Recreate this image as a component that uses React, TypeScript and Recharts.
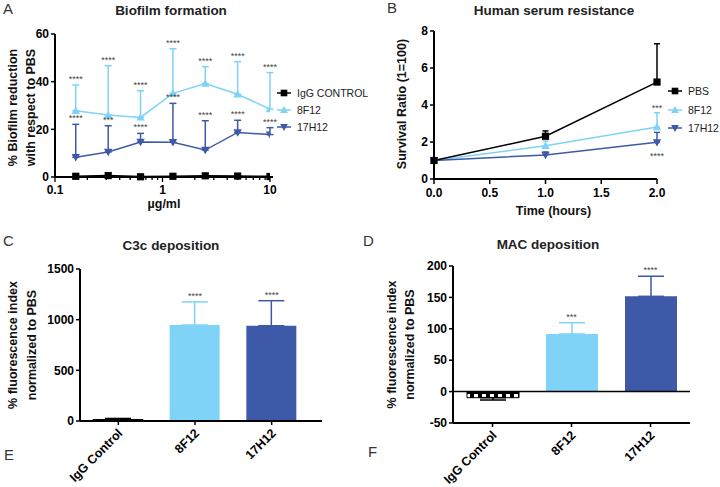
import React from 'react';
import {
  LineChart, Line, XAxis, YAxis, ErrorBar, LabelList, Label,
  ComposedChart, Bar, ReferenceLine,
} from 'recharts';

const LIGHT = '#7fd3f6';
const DARK = '#3e59a7';
const FONT = '"Liberation Sans", Arial, Helvetica, sans-serif';

// A: biofilm formation (log x)
const concentrations = [0.156, 0.3125, 0.625, 1.25, 2.5, 5, 10];
const biofilmIgg = [0.3, 0.6, 0.1, 0.3, 0.5, 0.4, 0.2];
const biofilm8F12 = [27.8, 26, 25, 35.1, 39.2, 34.7, 28.5];
const biofilm8F12Sd = [10.8, 20.7, 11.2, 18.7, 7.1, 13.7, 15.3];
const biofilm17H12 = [8.3, 10.5, 14.7, 14.6, 11.3, 18.7, 17.8];
const biofilm17H12Sd = [13.8, 11, 3.6, 16.3, 12.3, 5.1, 2.9];
const biofilm8F12Stars = ['****', '****', '****', '****', '****', '****', '****'];
const biofilm17H12Stars = ['****', '***', '****', '****', '****', '****', '****'];
const concMajorTicks = [0.1, 1, 10];
const concMinorTicks = [0.2, 0.3, 0.4, 0.5, 0.6, 0.7, 0.8, 0.9, 2, 3, 4, 5, 6, 7, 8, 9];

// B: human serum resistance
const hours = [0, 1, 2];
const serumPBS = [1, 2.31, 5.24];
const serumPBSSd = [0, 0.29, 2.07];
const serum8F12 = [1, 1.8, 2.81];
const serum8F12Sd = [0, 0.25, 0.77];
const serum17H12 = [1, 1.3, 1.98];
const serum17H12Sd = [0, 0.16, 0.54];
const serum8F12Stars = ['', '', '***'];
const serum17H12Stars = ['', '', '****'];

// C / D: deposition bars
const groups = ['IgG Control', '8F12', '17H12'];
const groupKeys = ['igg', 'f8', 'h17'];
const c3cValues = [15, 947, 940];
const c3cSd = [10, 228, 247];
const c3cStars = ['', '****', '****'];
const macValues = [-9.7, 91.7, 151.7];
const macSd = [3.7, 18, 32];
const macStars = ['', '***', '****'];

const biofilmData = concentrations.map((c, i) => ({
  c,
  igg: biofilmIgg[i],
  f8: biofilm8F12[i],
  f8Err: [0, biofilm8F12Sd[i]],
  f8Top: biofilm8F12[i] + biofilm8F12Sd[i],
  f8Star: biofilm8F12Stars[i],
  h17: biofilm17H12[i],
  h17Err: [0, biofilm17H12Sd[i]],
  h17Top: biofilm17H12[i] + biofilm17H12Sd[i],
  h17Star: biofilm17H12Stars[i],
}));

const serumData = hours.map((t, i) => ({
  t,
  pbs: serumPBS[i],
  pbsErr: [0, serumPBSSd[i]],
  f8: serum8F12[i],
  f8Err: [0, serum8F12Sd[i]],
  f8Top: serum8F12[i] + serum8F12Sd[i],
  f8Star: serum8F12Stars[i],
  h17: serum17H12[i],
  h17Err: [0, serum17H12Sd[i]],
  h17Star: serum17H12Stars[i],
}));

const barRows = (values: number[], sds: number[], stars: string[]) =>
  groups.map((g, i) => ({
    g,
    [groupKeys[i]]: values[i],
    [groupKeys[i] + 'Err']: values[i] < 0 ? [sds[i], 0] : [0, sds[i]],
    top: values[i] + sds[i],
    star: stars[i],
  }));

const c3cData = barRows(c3cValues, c3cSd, c3cStars);
const macData = barRows(macValues, macSd, macStars);

const Marker = ({ shape, cx, cy, color, r = 3.6 }: any) => {
  if (shape === 'square') return <rect x={cx - r} y={cy - r} width={2 * r} height={2 * r} fill={color} />;
  if (shape === 'up')
    return <path d={`M${cx},${cy - r - 0.6}L${cx + r + 0.6},${cy + r - 0.4}L${cx - r - 0.6},${cy + r - 0.4}Z`} fill={color} />;
  return <path d={`M${cx},${cy + r + 0.6}L${cx + r + 0.6},${cy - r + 0.4}L${cx - r - 0.6},${cy - r + 0.4}Z`} fill={color} />;
};

const dotOf = (shape: string, color: string) => (p: any) =>
  <Marker key={`${shape}-${p.index}`} shape={shape} cx={p.cx} cy={p.cy} color={color} />;

const starLabel = (dy: number) => (p: any) => {
  const vb = p.viewBox || {};
  const x = p.x ?? vb.x;
  const y = p.y ?? vb.y;
  if (!p.value) return null;
  return (
    <text x={x} y={y + dy} textAnchor="middle" fontSize={9} fill="#444" fontFamily={FONT}>{p.value}</text>
  );
};

const yTitle = (lines: string[], xs: number[], dy = 0) => (p: any) => {
  const vb = p.viewBox || { y: 0, height: 0 };
  const cy = vb.y + vb.height / 2 + dy;
  return (
    <g>
      {lines.map((l, i) => (
        <text key={l} x={xs[i]} y={cy} transform={`rotate(-90 ${xs[i]} ${cy})`} textAnchor="middle"
          dominantBaseline="central" fontSize={12.5} fontWeight="bold" fontFamily={FONT} fill="#111">{l}</text>
      ))}
    </g>
  );
};

const xTitle = (text: string, dx: number, dy: number) => (p: any) => {
  const vb = p.viewBox || { x: 0, y: 0, width: 0 };
  return (
    <text x={vb.x + vb.width / 2 + dx} y={vb.y + dy} textAnchor="middle" dominantBaseline="central"
      fontSize={12.5} fontWeight="bold" fontFamily={FONT} fill="#111">{text}</text>
  );
};

const LogTick = (props: any) => {
  const { x, y, payload } = props;
  const major = concMajorTicks.includes(payload.value);
  return (
    <g>
      <line x1={x} x2={x} y1={y} y2={y + (major ? 5 : 3)} stroke="#000" strokeWidth={1.3} />
      {major && (
        <text x={x} y={y + 17} textAnchor="middle" fontSize={12} fontWeight="bold" fontFamily={FONT} fill="#000">
          {payload.value}
        </text>
      )}
    </g>
  );
};

const SlantTick = (props: any) => {
  const { x, y, payload } = props;
  return (
    <text x={x + 5} y={y + 9} transform={`rotate(-45 ${x + 5} ${y + 9})`} textAnchor="end" fontSize={12.5}
      fontWeight="bold" fontFamily={FONT} fill="#000">{payload.value}</text>
  );
};

const tickStyle = { fill: '#000', fontSize: 12, fontWeight: 'bold', fontFamily: FONT };
const axisLine = { stroke: '#000', strokeWidth: 2 };
const tickLine = { stroke: '#000', strokeWidth: 1.5 };

const LegendRow = ({ shape, color, label, x, y }: any) => (
  <div style={{ position: 'absolute', left: x, top: y - 7, height: 14, display: 'flex', alignItems: 'center',
    whiteSpace: 'nowrap', fontSize: 10.5, fontFamily: FONT, color: '#222' }}>
    <svg width={14} height={10} style={{ display: 'block' }}>
      <line x1={0} x2={14} y1={5} y2={5} stroke={color} strokeWidth={1.5} />
      <Marker shape={shape} cx={7} cy={5} color={color} r={3.3} />
    </svg>
    <span style={{ marginLeft: 6 }}>{label}</span>
  </div>
);

const Title = ({ text, cx, cy }: any) => (
  <div style={{ position: 'absolute', left: cx - 120, top: cy - 8, width: 240, height: 16, lineHeight: '16px',
    textAlign: 'center', fontSize: 13.5, fontWeight: 'bold', fontFamily: FONT, color: '#222' }}>{text}</div>
);

const Letter = ({ text, x, y }: any) => (
  <div style={{ position: 'absolute', left: x, top: y - 8, height: 16, lineHeight: '16px', fontSize: 15,
    fontFamily: FONT, color: '#333' }}>{text}</div>
);

const checker = (id: string) => (
  <defs>
    <pattern id={id} width={8} height={8} patternUnits="userSpaceOnUse">
      <rect x={0} y={0} width={8} height={8} fill="#000" />
      <rect x={2} y={2} width={4} height={4} fill="#fff" />
    </pattern>
  </defs>
);

const BiofilmChart = () => (
  <LineChart width={360} height={230} data={biofilmData} margin={{ top: 34, right: 87, bottom: 23, left: 0 }}>
    <XAxis dataKey="c" type="number" scale="log" domain={[0.1, 10]} allowDataOverflow
      ticks={[...concMajorTicks, ...concMinorTicks]} interval={0} tick={<LogTick />} tickLine={false}
      tickSize={0} tickMargin={0} height={30} axisLine={axisLine} padding={{ left: 0, right: 3 }}>
      <Label content={xTitle('µg/ml', 0, 27)} />
    </XAxis>
    <YAxis domain={[0, 60]} ticks={[0, 20, 40, 60]} width={55} tick={tickStyle} tickSize={4} tickMargin={2}
      axisLine={axisLine} tickLine={tickLine}>
      <Label content={yTitle(['% Biofilm reduction', 'with respect to PBS'], [13, 31], 2)} />
    </YAxis>
    <Line dataKey="f8" stroke={LIGHT} strokeWidth={1.5} dot={dotOf('up', LIGHT)} isAnimationActive={false}>
      <ErrorBar dataKey="f8Err" direction="y" width={3.5} stroke={LIGHT} strokeWidth={1.5} />
    </Line>
    <Line dataKey="h17" stroke={DARK} strokeWidth={1.5} dot={dotOf('down', DARK)} isAnimationActive={false}>
      <ErrorBar dataKey="h17Err" direction="y" width={3.5} stroke={DARK} strokeWidth={1.5} />
    </Line>
    <Line dataKey="igg" stroke="#000" strokeWidth={1.8} dot={dotOf('square', '#000')} isAnimationActive={false} />
    <Line dataKey="f8Top" stroke="none" dot={false} activeDot={false} isAnimationActive={false} legendType="none">
      <LabelList dataKey="f8Star" content={starLabel(-3)} />
    </Line>
    <Line dataKey="h17Top" stroke="none" dot={false} activeDot={false} isAnimationActive={false} legendType="none">
      <LabelList dataKey="h17Star" content={starLabel(-3)} />
    </Line>
  </LineChart>
);

const SerumChart = () => (
  <LineChart width={360} height={230} data={serumData} margin={{ top: 31, right: 63, bottom: 21, left: 0 }}>
    <XAxis dataKey="t" type="number" domain={[0, 2]} ticks={[0, 0.5, 1, 1.5, 2]} interval={0}
      tickFormatter={(v: number) => v.toFixed(1)} tick={tickStyle} tickSize={5} tickMargin={4} height={30}
      axisLine={axisLine} tickLine={tickLine}>
      <Label content={xTitle('Time (hours)', 8, 32)} />
    </XAxis>
    <YAxis domain={[0, 8]} ticks={[0, 2, 4, 6, 8]} width={74} tick={tickStyle} tickSize={4} tickMargin={2}
      axisLine={axisLine} tickLine={tickLine}>
      <Label content={yTitle(['Survival Ratio (1=100)'], [42], -1)} />
    </YAxis>
    <Line dataKey="f8" stroke={LIGHT} strokeWidth={1.5} dot={dotOf('up', LIGHT)} isAnimationActive={false}>
      <ErrorBar dataKey="f8Err" direction="y" width={3} stroke={LIGHT} strokeWidth={1.5} />
    </Line>
    <Line dataKey="h17" stroke={DARK} strokeWidth={1.5} dot={dotOf('down', DARK)} isAnimationActive={false}>
      <ErrorBar dataKey="h17Err" direction="y" width={3} stroke={DARK} strokeWidth={1.5} />
    </Line>
    <Line dataKey="pbs" stroke="#000" strokeWidth={1.5} dot={dotOf('square', '#000')} isAnimationActive={false}>
      <ErrorBar dataKey="pbsErr" direction="y" width={3} stroke="#000" strokeWidth={1.5} />
    </Line>
    <Line dataKey="f8Top" stroke="none" dot={false} activeDot={false} isAnimationActive={false} legendType="none">
      <LabelList dataKey="f8Star" content={starLabel(-2)} />
    </Line>
    <Line dataKey="h17" stroke="none" dot={false} activeDot={false} isAnimationActive={false} legendType="none">
      <LabelList dataKey="h17Star" content={starLabel(17)} />
    </Line>
  </LineChart>
);

const DepositionChart = ({ data, id, domain, ticks, width, margin, xHeight, barSize, lineX, xPad, zeroLine }: any) => (
  <ComposedChart width={360} height={247} data={data} margin={margin} barSize={barSize}>
    {checker(id)}
    <XAxis dataKey="g" type="category" tick={<SlantTick />} interval={0} tickSize={4} tickMargin={0}
      height={xHeight} axisLine={axisLine} tickLine={tickLine} padding={xPad} />
    <YAxis domain={domain} ticks={ticks} width={width} tick={tickStyle} tickSize={4} tickMargin={2}
      axisLine={axisLine} tickLine={tickLine} allowDataOverflow>
      <Label content={yTitle(['% fluorescence index', 'normalized to PBS'], lineX, 0)} />
    </YAxis>
    {zeroLine && <ReferenceLine y={0} stroke="#000" strokeWidth={1.5} />}
    <Bar dataKey="igg" stackId="g" fill={`url(#${id})`} stroke="#000" strokeWidth={1} isAnimationActive={false}>
      <ErrorBar dataKey="iggErr" direction="y" width={13} stroke="#000" strokeWidth={1.5} />
    </Bar>
    <Bar dataKey="f8" stackId="g" fill={LIGHT} isAnimationActive={false}>
      <ErrorBar dataKey="f8Err" direction="y" width={13} stroke={LIGHT} strokeWidth={1.5} />
    </Bar>
    <Bar dataKey="h17" stackId="g" fill={DARK} isAnimationActive={false}>
      <ErrorBar dataKey="h17Err" direction="y" width={13} stroke={DARK} strokeWidth={1.5} />
    </Bar>
    <Line dataKey="top" stroke="none" dot={false} activeDot={false} isAnimationActive={false} legendType="none">
      <LabelList dataKey="star" content={starLabel(-3)} />
    </Line>
  </ComposedChart>
);

export default function App() {
  return (
    <div style={{ position: 'absolute', left: 0, top: 0, width: 720, height: 487, background: '#fff',
      overflow: 'hidden', fontFamily: FONT }}>
      <div style={{ position: 'absolute', left: 0, top: 0, width: 360, height: 230 }}>
        <BiofilmChart />
        <LegendRow shape="square" color="#000" label="IgG CONTROL" x={277} y={93} />
        <LegendRow shape="up" color={LIGHT} label="8F12" x={277} y={110} />
        <LegendRow shape="down" color={DARK} label="17H12" x={277} y={127} />
      </div>
      <div style={{ position: 'absolute', left: 360, top: 0, width: 360, height: 230 }}>
        <SerumChart />
        <LegendRow shape="square" color="#000" label="PBS" x={308} y={91} />
        <LegendRow shape="up" color={LIGHT} label="8F12" x={308} y={110} />
        <LegendRow shape="down" color={DARK} label="17H12" x={308} y={128} />
      </div>
      <div style={{ position: 'absolute', left: 0, top: 240, width: 360, height: 247 }}>
        <DepositionChart data={c3cData} id="checkC" domain={[0, 1500]} ticks={[0, 500, 1000, 1500]} width={80}
          margin={{ top: 29, right: 38, bottom: 6, left: 0 }} xHeight={60} barSize={50} lineX={[13, 32]}
          xPad={{ left: 0, right: 12 }} zeroLine={false} />
      </div>
      <div style={{ position: 'absolute', left: 360, top: 240, width: 360, height: 247 }}>
        <DepositionChart data={macData} id="checkD" domain={[-50, 200]} ticks={[-50, 0, 50, 100, 150, 200]}
          width={93} margin={{ top: 26, right: 30, bottom: 0, left: 0 }} xHeight={64} barSize={52} lineX={[32, 50]}
          xPad={{ left: 0, right: 0 }} zeroLine />
      </div>
      <Title text="Biofilm formation" cx={171} cy={11} />
      <Title text="Human serum resistance" cx={554} cy={11} />
      <Title text="C3c deposition" cx={171} cy={246} />
      <Title text="MAC deposition" cx={548} cy={245} />
      <Letter text="A" x={3} y={9} />
      <Letter text="B" x={387} y={8} />
      <Letter text="C" x={3} y={241} />
      <Letter text="D" x={363} y={241} />
      <Letter text="E" x={4} y={455} />
      <Letter text="F" x={368} y={452} />
    </div>
  );
}
